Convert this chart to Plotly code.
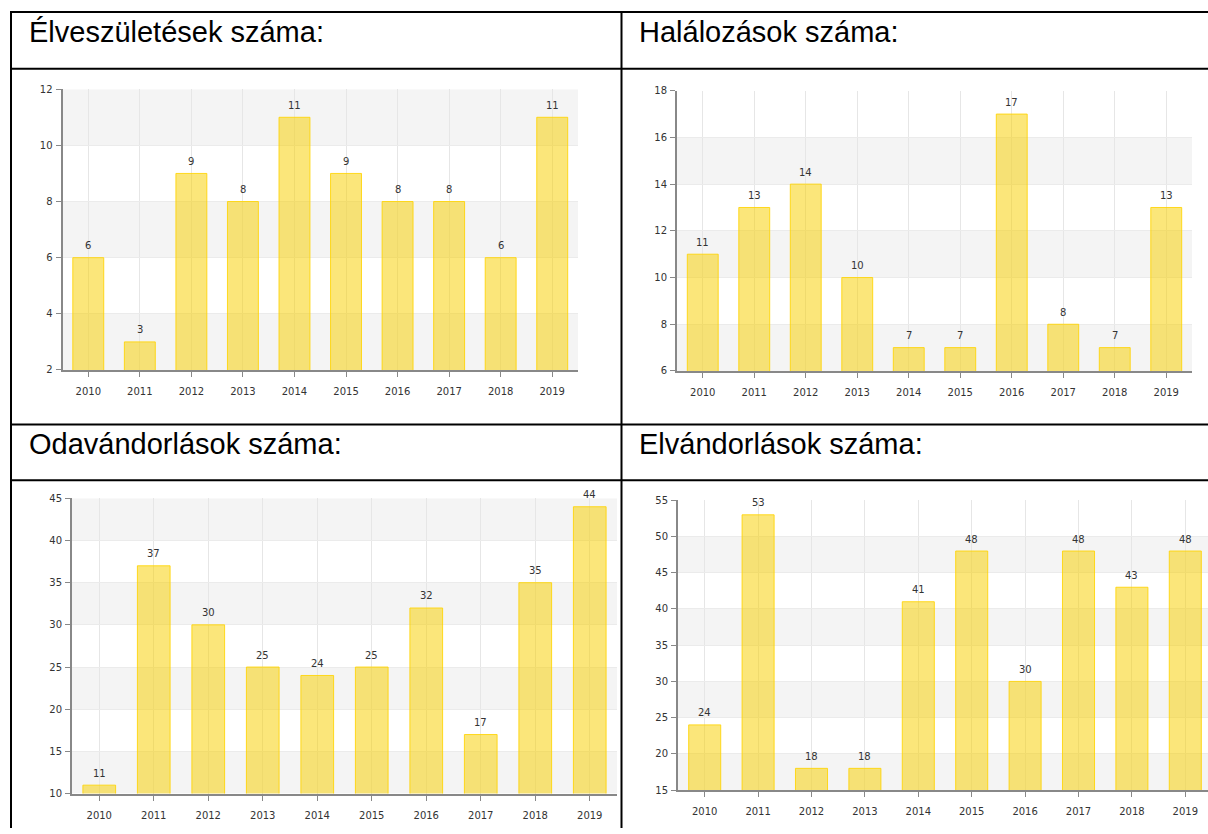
import plotly.graph_objects as go

# ---------------- data ----------------
years = ["2010", "2011", "2012", "2013", "2014", "2015", "2016", "2017", "2018", "2019"]
elveszuletesek = [6, 3, 9, 8, 11, 9, 8, 8, 6, 11]
halalozasok = [11, 13, 14, 10, 7, 7, 17, 8, 7, 13]
odavandorlasok = [11, 37, 30, 25, 24, 25, 32, 17, 35, 44]
elvandorlasok = [24, 53, 18, 18, 41, 48, 30, 48, 43, 48]
titles = ["Élveszületések száma:", "Halálozások száma:",
          "Odavándorlások száma:", "Elvándorlások száma:"]
series = [elveszuletesek, halalozasok, odavandorlasok, elvandorlasok]
y_axis_ranges = [(2, 12, 2), (6, 18, 2), (10, 45, 5), (15, 55, 5)]

# ---------------- layout geometry (pixels) ----------------
W, H = 1208, 834
plot_boxes = [
    (62.5, 578, 90, 370, 9.5),
    (677, 1192, 91.5, 371, 9.5),
    (72, 617, 498, 792.5, 9.5),
    (678, 1208, 500, 789, 9.425),
]
title_pos = [(27, 33), (637, 33), (27, 444), (637, 444)]

# vertical correction for the capture (measured: y_shown ~ 7 + 0.983 * y_page)
V_OFF, V_SCALE = 7.0, 0.983

def px(x):
    return x / W

def py(y):
    yp = (y - V_OFF) / V_SCALE
    return min(1.0, max(0.0, 1 - yp / H))

BAR_FILL = "rgba(248,208,0,0.52)"
BAR_LINE = "rgba(255,212,0,0.85)"
TICK_FONT = dict(family="DejaVu Sans, Verdana, sans-serif", size=10, color="#333")

fig = go.Figure()
shapes = []
annotations = []

for i, (vals, (ymin, ymax, dt), box) in enumerate(zip(series, y_axis_ranges, plot_boxes)):
    n = "" if i == 0 else str(i + 1)
    xa, ya = "x" + n, "y" + n
    l, r, t, b, xend = box
    fig.add_trace(go.Bar(
        x=years, y=vals, xaxis=xa, yaxis=ya, width=0.6,
        marker=dict(color=BAR_FILL, line=dict(color=BAR_LINE, width=1)),
        hoverinfo="x+y", showlegend=False,
    ))
    fig.layout["xaxis" + n] = dict(
        domain=[px(l), px(r)], anchor=ya, type="category",
        range=[-0.5, xend], showgrid=True, gridcolor="#e6e6e6", gridwidth=1,
        showline=True, linecolor="#888", linewidth=2,
        ticks="outside", ticklen=5, tickcolor="#888", tickwidth=1,
        tickfont=TICK_FONT, ticklabelstandoff=6, fixedrange=True,
    )
    fig.layout["yaxis" + n] = dict(
        domain=[py(b), py(t)], anchor=xa, range=[ymin, ymax], dtick=dt, tick0=ymin,
        showgrid=True, gridcolor="#ebebeb", gridwidth=1, zeroline=False,
        showline=True, linecolor="#888", linewidth=2,
        ticks="outside", ticklen=5, tickcolor="#888", tickwidth=1,
        tickfont=TICK_FONT, ticklabelstandoff=1, fixedrange=True,
    )
    # alternating bands, starting from the bottom
    k = 0
    v = ymin
    while v < ymax:
        if k % 2 == 0:
            shapes.append(dict(type="rect", xref=xa + " domain", yref=ya,
                               x0=0, x1=1, y0=v, y1=v + dt,
                               fillcolor="#f4f4f4", line=dict(width=0), layer="below"))
        v += dt
        k += 1
    # value labels (category axes take the category index)
    for idx, val in enumerate(vals):
        annotations.append(dict(x=idx, y=val, xref=xa, yref=ya, text=str(val),
                                showarrow=False, yanchor="middle", yshift=12,
                                font=TICK_FONT))
    # title
    tx, ty = title_pos[i]
    annotations.append(dict(x=px(tx), y=py(ty), xref="paper", yref="paper",
                            text=titles[i], showarrow=False, xanchor="left",
                            yanchor="middle",
                            font=dict(family="Liberation Sans, Arial, sans-serif",
                                      size=29, color="#000")))

# table borders
BL = dict(color="#000", width=2)
for yline in (13, 69.5, 424.5, 480):
    shapes.append(dict(type="line", xref="paper", yref="paper",
                       x0=px(10), x1=1, y0=py(yline), y1=py(yline), line=BL, layer="above"))
for xline in (11, 621.5):
    shapes.append(dict(type="line", xref="paper", yref="paper",
                       x0=px(xline), x1=px(xline), y0=py(13), y1=0, line=BL, layer="above"))

fig.update_layout(
    width=W, height=H, margin=dict(l=0, r=0, t=0, b=0),
    paper_bgcolor="white", plot_bgcolor="white",
    shapes=shapes, annotations=annotations, showlegend=False,
)

post = (
    "var s=document.createElement('style');"
    "s.innerHTML='html,body{margin:0;padding:0;overflow:hidden;width:1208px;height:834px;}';"
    "document.head.appendChild(s);"
    "var d=document.getElementById('{plot_id}');"
    "d.style.position='fixed';d.style.top='0px';d.style.left='0px';"
)
fig.write_html("out.html", config={"displayModeBar": False}, post_script=post)
